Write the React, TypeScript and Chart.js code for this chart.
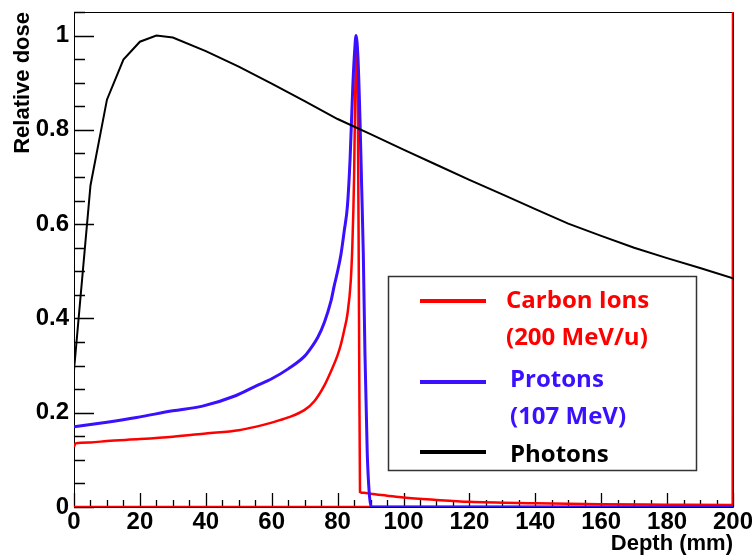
import React, { useEffect, useRef } from "react";
import { Chart, registerables } from "chart.js";

Chart.register(...registerables);

// ---------- data ----------
const photonDepth = [0, 5, 10, 15, 20, 25, 30, 40, 50, 60, 70, 80, 90, 100, 110, 120, 130, 140, 150, 160, 170, 180, 190, 200];
const photonDose = [0.29, 0.682, 0.864, 0.949, 0.987, 1.0, 0.996, 0.967, 0.934, 0.898, 0.861, 0.823, 0.791, 0.758, 0.726, 0.694, 0.663, 0.632, 0.601, 0.575, 0.55, 0.528, 0.507, 0.485];

const protonDepth = [0, 10, 19, 30, 39, 49, 55, 60, 65, 70, 72, 74, 76, 78, 79, 80, 81, 82, 83, 83.8, 84.6, 85.2, 85.6, 86.2, 86.8, 87.3, 87.8, 88.3, 89, 89.6, 90.2, 200];
const protonDose = [0.17, 0.18, 0.19, 0.204, 0.214, 0.236, 0.256, 0.272, 0.293, 0.32, 0.338, 0.36, 0.392, 0.437, 0.47, 0.5, 0.535, 0.585, 0.64, 0.74, 0.89, 0.97, 1.0, 0.95, 0.82, 0.68, 0.537, 0.326, 0.114, 0.03, 0, 0];

const carbonDepth = [0, 0.5, 5, 10, 20, 30, 40, 50, 55, 60, 65, 70, 73, 76, 78, 80, 81, 82, 83, 84, 84.5, 85, 85.4, 85.7, 86.1, 86.5, 86.8, 88, 90, 95, 100, 110, 120, 140, 160, 180, 199.9, 200];
const carbonDose = [0.128, 0.135, 0.137, 0.14, 0.144, 0.149, 0.156, 0.163, 0.17, 0.179, 0.19, 0.206, 0.225, 0.258, 0.288, 0.322, 0.345, 0.375, 0.41, 0.48, 0.56, 0.7, 0.9, 0.98, 0.9, 0.4, 0.032, 0.03, 0.028, 0.024, 0.02, 0.015, 0.011, 0.008, 0.006, 0.005, 0.004, 1.1];

const carbonBaselineDepth = [0, 200];
const carbonBaselineDose = [0, 0];

const xTickValues = [0, 20, 40, 60, 80, 100, 120, 140, 160, 180, 200];
const xTickLabels = ["0", "20", "40", "60", "80", "100", "120", "140", "160", "180", "200"];
const yTickValues = [0, 0.2, 0.4, 0.6, 0.8, 1];
const yTickLabels = ["0", "0.2", "0.4", "0.6", "0.8", "1"];

const legendLines = [
  ["Carbon Ions", "(200 MeV/u)"],
  ["Protons", "(107 MeV)"],
  ["Photons"],
];

const X_MINOR_STEP = 5;
const Y_MINOR_STEP = 0.05;

const RED = "#ff0000";
const BLUE = "#3a10ff";
const BLACK = "#000000";

const toPoints = (xs: number[], ys: number[]) => xs.map((x, i) => ({ x, y: ys[i] }));

const labelFor = (values: number[], labels: string[], v: number) => {
  const i = values.findIndex((t) => Math.abs(t - v) < 1e-6);
  return i >= 0 ? labels[i] : "";
};

// Frame + inward ticks (ROOT style)
const framePlugin = {
  id: "rootFrame",
  beforeDatasetsDraw(chart: any) {
    const { ctx, chartArea } = chart;
    const xs = chart.scales.x;
    const ys = chart.scales.y;
    const { left, right, top, bottom } = chartArea;
    ctx.save();
    ctx.strokeStyle = "#000";
    ctx.lineWidth = 1;
    ctx.beginPath();
    ctx.rect(left + 0.5, top + 0.5, right - left, bottom - top);
    ctx.stroke();
    ctx.lineWidth = 1.3;
    ctx.beginPath();
    for (let v = xs.min; v <= xs.max + 1e-6; v += X_MINOR_STEP) {
      const px = Math.round(xs.getPixelForValue(v)) + 0.5;
      const major = xTickValues.some((t) => Math.abs(t - v) < 1e-6);
      const len = major ? 14 : 7;
      ctx.moveTo(px, bottom);
      ctx.lineTo(px, bottom - len);
    }
    for (let v = ys.min; v <= ys.max + 1e-6; v += Y_MINOR_STEP) {
      const py = Math.round(ys.getPixelForValue(v)) + 0.5;
      const major = yTickValues.some((t) => Math.abs(t - v) < 1e-6);
      const len = major ? 20 : 11;
      ctx.moveTo(left, py);
      ctx.lineTo(left + len, py);
    }
    ctx.stroke();
    ctx.restore();
  },
};

const legendPlugin = {
  id: "boxLegend",
  afterDatasetsDraw(chart: any) {
    const { ctx } = chart;
    ctx.save();
    ctx.fillStyle = "#ffffff";
    ctx.fillRect(388, 276, 309, 195);
    ctx.strokeStyle = "#333333";
    ctx.lineWidth = 1.5;
    ctx.strokeRect(388.5, 276.5, 308, 194);
    const colors = [RED, BLUE, BLACK];
    const lineY = [301, 382, 452];
    const textRows = [
      [301, 338],
      [380, 417],
      [455],
    ];
    const textX = [506, 510, 510];
    ctx.lineWidth = 4;
    ctx.font = "bold 24px 'Open Sans', Lato, sans-serif";
    ctx.textBaseline = "middle";
    ctx.textAlign = "left";
    legendLines.forEach((lines, i) => {
      ctx.strokeStyle = colors[i];
      ctx.beginPath();
      ctx.moveTo(420, lineY[i]);
      ctx.lineTo(486, lineY[i]);
      ctx.stroke();
      ctx.fillStyle = colors[i];
      lines.forEach((t, j) => {
        ctx.fillText(t, textX[i], textRows[i][j]);
      });
    });
    ctx.restore();
  },
};

export default function App() {
  const canvasRef = useRef<HTMLCanvasElement | null>(null);

  useEffect(() => {
    if (!canvasRef.current) return;
    const tickFont = { family: "'Liberation Sans', Arial, sans-serif", size: 24, weight: "bold" as const };
    const titleFont = { family: "'Liberation Sans', Arial, sans-serif", size: 22, weight: "bold" as const };
    const chart = new Chart(canvasRef.current, {
      type: "line",
      data: {
        datasets: [
          {
            label: "Photons",
            data: toPoints(photonDepth, photonDose),
            borderColor: BLACK,
            borderWidth: 2,
            pointRadius: 0,
            tension: 0,
            fill: false,
          },
          {
            label: "Protons (107 MeV)",
            data: toPoints(protonDepth, protonDose),
            borderColor: BLUE,
            borderWidth: 3,
            pointRadius: 0,
            cubicInterpolationMode: "monotone",
            fill: false,
          },
          {
            label: "Carbon Ions (200 MeV/u)",
            data: toPoints(carbonDepth, carbonDose),
            borderColor: RED,
            borderWidth: 2.5,
            pointRadius: 0,
            cubicInterpolationMode: "monotone",
            fill: false,
          },
          {
            label: "carbon baseline",
            data: toPoints(carbonBaselineDepth, carbonBaselineDose),
            borderColor: RED,
            borderWidth: 2.5,
            pointRadius: 0,
            tension: 0,
            fill: false,
          },
        ],
      },
      options: {
        responsive: false,
        animation: false,
        parsing: false as any,
        layout: { padding: { left: 0, top: 12, right: 19, bottom: 0 } },
        plugins: {
          legend: { display: false },
          tooltip: { enabled: false },
        },
        scales: {
          x: {
            type: "linear",
            min: 0,
            max: 200,
            grid: { display: false, drawTicks: false },
            border: { display: false },
            ticks: {
              stepSize: 20,
              padding: 1,
              color: "#000",
              font: tickFont,
              maxRotation: 0,
              autoSkip: false,
              callback: (v: any) => labelFor(xTickValues, xTickLabels, Number(v)),
            },
            title: {
              display: true,
              text: "Depth (mm)",
              align: "end",
              color: "#000",
              font: titleFont,
              padding: { top: 0, bottom: -1 },
            },
            afterFit: (scale: any) => {
              scale.height = 49;
              scale.paddingLeft = 0;
              scale.paddingRight = 0;
            },
          },
          y: {
            type: "linear",
            min: 0,
            max: 1.05,
            grid: { display: false, drawTicks: false },
            border: { display: false },
            ticks: {
              stepSize: 0.2,
              includeBounds: false,
              padding: 5,
              color: "#000",
              font: tickFont,
              callback: (v: any) => labelFor(yTickValues, yTickLabels, Number(v)),
            },
            title: {
              display: true,
              text: "Relative dose",
              align: "end",
              color: "#000",
              font: titleFont,
              padding: { top: 10, bottom: 0 },
            },
            afterFit: (scale: any) => {
              scale.width = 74;
              scale.paddingTop = 0;
              scale.paddingBottom = 0;
            },
          },
        },
      },
      plugins: [framePlugin, legendPlugin],
    });
    return () => chart.destroy();
  }, []);

  return (
    <div style={{ position: "fixed", left: 0, top: 0, width: 752, height: 556, background: "#fff" }}>
      <canvas ref={canvasRef} width={752} height={556} style={{ display: "block", width: 752, height: 556 }} />
    </div>
  );
}
